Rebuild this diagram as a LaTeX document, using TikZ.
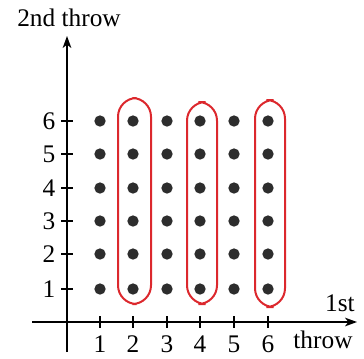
\documentclass[tikz,border=0pt]{standalone}
\usepackage{fontspec}
\setmainfont{Liberation Serif}
\usetikzlibrary{arrows.meta,calc}

\begin{document}
\begin{tikzpicture}[x=0.75pt,y=0.75pt,yscale=-1,xscale=1,
  dot/.style={circle,fill={rgb,255:red,45;green,45;blue,45},inner sep=0pt,minimum size=8.5pt},
  ring/.style={draw={rgb,255:red,220;green,40;blue,45},line width=1.5pt,rounded corners=14pt},
  lbl/.style={inner sep=0.75pt,font=\fontsize{19}{22}\selectfont},
  axis/.style={line width=1pt,-{Stealth[length=9pt,width=6.5pt,inset=2.5pt]}}]
\useasboundingbox (0,0) rectangle (364,358);

%Axes
\coordinate (ytop) at (67,36);
\coordinate (ybot) at (67,352);
\coordinate (xlft) at (32,322);
\coordinate (xrgt) at (357,322);
\draw [axis] (ybot) -- (ytop) ;
\draw [axis] (xlft) -- (xrgt) ;

%Ticks on 1st throw axis
\draw [line width=1pt] (100,316) -- (100,328) ;
\draw [line width=1pt] (133,316) -- (133,328) ;
\draw [line width=1pt] (167,316) -- (167,328) ;
\draw [line width=1pt] (200,316) -- (200,328) ;
\draw [line width=1pt] (234,316) -- (234,328) ;
\draw [line width=1pt] (268,316) -- (268,328) ;
%Ticks on 2nd throw axis
\draw [line width=1pt] (61,289) -- (73,289) ;
\draw [line width=1pt] (61,254) -- (73,254) ;
\draw [line width=1pt] (61,221) -- (73,221) ;
\draw [line width=1pt] (61,188) -- (73,188) ;
\draw [line width=1pt] (61,154) -- (73,154) ;
\draw [line width=1pt] (61,121) -- (73,121) ;

%Shape: Dots, row 1
\node [dot] (d11) at (100,289) {};
\node [dot] (d21) at (133,289) {};
\node [dot] (d31) at (167,289) {};
\node [dot] (d41) at (200,289) {};
\node [dot] (d51) at (234,289) {};
\node [dot] (d61) at (268,289) {};
%Shape: Dots, row 2
\node [dot] (d12) at (100,254) {};
\node [dot] (d22) at (133,254) {};
\node [dot] (d32) at (167,254) {};
\node [dot] (d42) at (200,254) {};
\node [dot] (d52) at (234,254) {};
\node [dot] (d62) at (268,254) {};
%Shape: Dots, row 3
\node [dot] (d13) at (100,221) {};
\node [dot] (d23) at (133,221) {};
\node [dot] (d33) at (167,221) {};
\node [dot] (d43) at (200,221) {};
\node [dot] (d53) at (234,221) {};
\node [dot] (d63) at (268,221) {};
%Shape: Dots, row 4
\node [dot] (d14) at (100,188) {};
\node [dot] (d24) at (133,188) {};
\node [dot] (d34) at (167,188) {};
\node [dot] (d44) at (200,188) {};
\node [dot] (d54) at (234,188) {};
\node [dot] (d64) at (268,188) {};
%Shape: Dots, row 5
\node [dot] (d15) at (100,154) {};
\node [dot] (d25) at (133,154) {};
\node [dot] (d35) at (167,154) {};
\node [dot] (d45) at (200,154) {};
\node [dot] (d55) at (234,154) {};
\node [dot] (d65) at (268,154) {};
%Shape: Dots, row 6
\node [dot] (d16) at (100,121) {};
\node [dot] (d26) at (133,121) {};
\node [dot] (d36) at (167,121) {};
\node [dot] (d46) at (200,121) {};
\node [dot] (d56) at (234,121) {};
\node [dot] (d66) at (268,121) {};

%Red loops round the even columns
\draw [ring] ($(d26)+(-15,-23)$) rectangle ($(d21)+(18,15)$) ;
\draw [ring] ($(d46)+(-13,-19)$) rectangle ($(d41)+(17,15)$) ;
\draw [ring] ($(d66)+(-13,-21)$) rectangle ($(d61)+(17,18)$) ;

% Text Node
\node [lbl] (t1) at (100,344) {1};
\node [lbl] (t2) at (133,344) {2};
\node [lbl] (t3) at (167,344) {3};
\node [lbl] (t4) at (200,344) {4};
\node [lbl] (t5) at (234,344) {5};
\node [lbl] (t6) at (268,344) {6};
% Text Node
\node [lbl] (s1) at (49,289) {1};
\node [lbl] (s2) at (49,254) {2};
\node [lbl] (s3) at (49,221) {3};
\node [lbl] (s4) at (49,188) {4};
\node [lbl] (s5) at (49,154) {5};
\node [lbl] (s6) at (49,121) {6};
% Text Node
\node [lbl] (ylab) at (69,18) {2nd throw};
\node [lbl] (xlab1) at (340,303) {1st};
\node [lbl] (xlab2) at (323,340) {throw};
\end{tikzpicture}
\end{document}
